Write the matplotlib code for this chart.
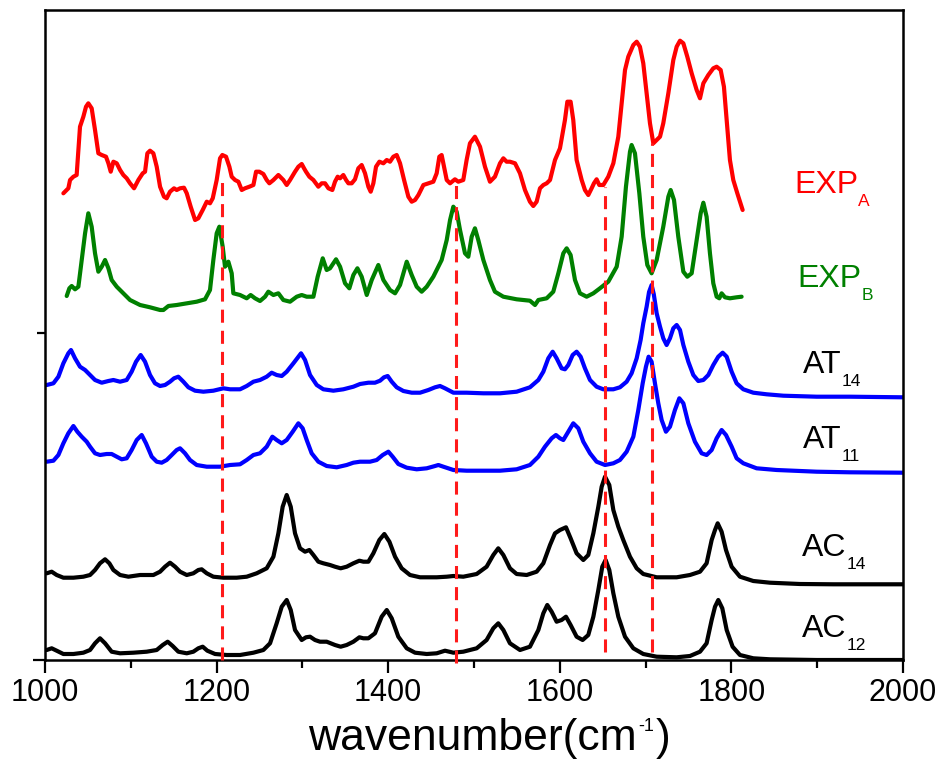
import numpy as np
import matplotlib
matplotlib.use("Agg")
import matplotlib.pyplot as plt

plt.rcParams['font.family'] = ['Liberation Sans', 'DejaVu Sans']
plt.rcParams['lines.scale_dashes'] = False

# spectra (wavenumber in cm-1, stacked intensity in a.u.)
expA_wn = [1021.4, 1027.2, 1029.2, 1033.1, 1036.9, 1040.8, 1044.7, 1047.8, 1050.5, 1054.4,
           1058.3, 1062.2, 1066.1, 1071.1, 1073.9, 1076.6, 1079.7, 1083.6, 1087.5, 1091.3,
           1095.2, 1099.1, 1103.8, 1108.8, 1113.9, 1116.6, 1119.3, 1122.4, 1126.3, 1130.2,
           1134.1, 1138.7, 1141.8, 1145.7, 1150.4, 1153.5, 1157.4, 1162.0, 1165.2, 1169.8,
           1174.9, 1178.7, 1183.8, 1188.5, 1192.3, 1195.5, 1200.1, 1204.0, 1206.7, 1211.0,
           1214.9, 1217.6, 1221.5, 1225.4, 1229.3, 1233.1, 1238.2, 1242.9, 1246.0, 1249.8,
           1254.5, 1258.4, 1261.5, 1266.2, 1272.0, 1277.8, 1281.7, 1285.6, 1291.4, 1295.3,
           1299.2, 1301.9, 1304.2, 1308.1, 1312.8, 1318.6, 1322.5, 1326.4, 1330.3, 1334.9,
           1338.0, 1341.1, 1343.9, 1347.7, 1350.9, 1353.6, 1357.5, 1361.3, 1365.2, 1369.1,
           1373.0, 1376.9, 1379.6, 1382.7, 1385.8, 1389.7, 1394.4, 1398.3, 1402.1, 1406.0,
           1409.9, 1413.8, 1418.5, 1423.5, 1427.4, 1431.3, 1435.2, 1441.0, 1446.8, 1452.6,
           1456.5, 1459.6, 1462.3, 1465.1, 1468.2, 1472.1, 1477.8, 1481.7, 1487.5, 1491.4,
           1495.3, 1501.1, 1507.0, 1512.8, 1518.6, 1524.4, 1530.3, 1534.2, 1538.0, 1541.9,
           1547.8, 1553.6, 1559.4, 1565.2, 1569.1, 1573.0, 1576.9, 1580.8, 1584.7, 1588.6,
           1594.4, 1600.2, 1606.0, 1608.8, 1612.6, 1615.7, 1619.6, 1625.5, 1629.3, 1633.2,
           1637.1, 1639.8, 1642.9, 1646.0, 1650.7, 1656.5, 1662.4, 1668.2, 1672.1, 1676.0,
           1679.8, 1685.7, 1689.6, 1693.4, 1697.3, 1701.2, 1705.1, 1709.0, 1712.9, 1716.8,
           1720.6, 1726.5, 1732.3, 1736.2, 1740.1, 1744.0, 1748.6, 1753.7, 1759.5, 1763.4,
           1767.3, 1773.1, 1778.9, 1782.8, 1787.5, 1791.3, 1794.5, 1798.3, 1802.2, 1806.9,
           1813.1]
expA_int = [466.7, 471.7, 480, 483.3, 485, 533.3, 543.3, 553.3, 556.7, 551.7,
            530, 506.7, 505, 503.3, 496.7, 488.3, 498.3, 496.7, 490, 485,
            481.7, 476.7, 471.7, 480, 486.7, 488.3, 506.7, 509.3, 506.7, 493.3,
            473.3, 463.3, 461.7, 468.3, 471.7, 470, 471.7, 472.3, 466.7, 453.3,
            440, 441.7, 450, 458.3, 456.7, 461.7, 480, 501.7, 505, 503.3,
            493.3, 483.3, 480, 478.3, 470, 471.7, 473.3, 475, 488.3, 488.3,
            486, 480, 476.7, 480, 485, 480, 475, 480, 488.3, 493.3,
            496, 491.7, 488.3, 483.3, 480, 473.3, 476.7, 476.7, 471.7, 470,
            478.3, 483.3, 481.7, 485, 480, 476.7, 476.7, 480.7, 491.7, 495,
            486.7, 473.3, 468.3, 476.7, 493.3, 498.3, 496.7, 500, 498.3, 503.3,
            505, 496.7, 480, 463.3, 458.3, 460, 465, 475, 476.7, 478.3,
            486.7, 503.3, 505, 493.3, 480, 476.7, 480.7, 478.3, 480, 500,
            516.7, 523.3, 513.3, 493.3, 478.3, 483.3, 496.7, 501.7, 498.3, 498.3,
            496.7, 486.7, 470, 458.3, 454, 458.3, 471.7, 475, 476.7, 480,
            500, 511.7, 540, 558.3, 558.3, 540, 500, 480, 470, 465,
            471.7, 476.7, 480.7, 475, 475, 483.3, 496.7, 523.3, 556.7, 590,
            603.3, 615, 618.3, 613.3, 596.7, 566.7, 536.7, 516.7, 520, 523.3,
            536.7, 566.7, 600, 613.3, 619.3, 616.7, 603.3, 586.7, 570, 561.7,
            576.7, 585, 591.7, 593.3, 590, 573.3, 540, 500, 480, 466.7,
            450]

expB_wn = [1025.3, 1028.4, 1031.1, 1035.0, 1038.9, 1042.8, 1046.7, 1050.5, 1054.4, 1058.3,
           1062.2, 1066.1, 1070.0, 1073.9, 1077.7, 1083.6, 1091.3, 1099.1, 1110.8, 1122.4,
           1134.1, 1138.0, 1143.8, 1153.5, 1165.2, 1176.8, 1186.5, 1192.3, 1196.2, 1200.1,
           1203.2, 1207.1, 1209.8, 1213.7, 1217.6, 1219.5, 1227.3, 1235.1, 1239.7, 1244.8,
           1250.6, 1256.5, 1260.3, 1266.2, 1272.0, 1277.8, 1285.6, 1293.4, 1299.2, 1305.0,
           1312.8, 1317.8, 1323.7, 1328.3, 1332.2, 1339.2, 1343.9, 1349.7, 1354.7, 1359.4,
           1364.1, 1369.1, 1375.0, 1380.8, 1388.5, 1394.4, 1402.1, 1408.0, 1413.8, 1421.6,
           1427.4, 1433.2, 1439.0, 1444.9, 1452.6, 1462.3, 1468.2, 1472.1, 1475.9, 1479.8,
           1483.7, 1489.5, 1493.4, 1497.3, 1501.1, 1505.0, 1510.9, 1518.6, 1524.4, 1534.2,
           1549.7, 1565.2, 1571.1, 1575.0, 1584.7, 1592.4, 1598.3, 1604.1, 1608.0, 1612.6,
           1617.7, 1623.5, 1631.3, 1639.1, 1646.8, 1656.5, 1666.3, 1672.1, 1677.1, 1681.8,
           1683.7, 1687.6, 1692.7, 1697.3, 1702.0, 1707.0, 1712.9, 1720.6, 1726.5, 1729.2,
           1733.1, 1738.1, 1744.0, 1748.6, 1753.7, 1759.5, 1764.2, 1767.3, 1771.1, 1775.0,
           1778.9, 1782.8, 1785.9, 1788.6, 1792.5, 1798.3, 1806.1, 1811.9]
expB_int = [364, 371.7, 374, 370.7, 373.3, 400, 426.7, 446.7, 433.3, 406.7,
            388.3, 393.3, 400, 391.7, 380, 373.3, 366.7, 360, 355, 352.7,
            350, 350, 354, 355, 356.7, 358.3, 360.7, 370, 400, 426.7,
            433.3, 413.3, 393.3, 398.3, 386.7, 366.7, 365, 361.7, 365, 361.7,
            359, 363.3, 368.3, 365, 366.7, 360, 358.3, 363.3, 365, 363.3,
            363.3, 383.3, 401.7, 390, 391.7, 400.7, 393.3, 376.7, 371.7, 385,
            391.7, 383.3, 365, 380, 395, 380, 370, 366.7, 375, 398.3,
            385, 373.3, 368.3, 373.3, 383.3, 400, 420, 440, 453.3, 448.3,
            430, 406.7, 403.3, 423.3, 431.7, 420, 400, 380, 368.3, 363.3,
            360.7, 359.3, 355, 360, 361.7, 368.3, 386.7, 406.7, 411.7, 405,
            380, 366.7, 363.3, 366.7, 371.7, 378.3, 393.3, 423.3, 473.3, 508.3,
            515, 506.7, 466.7, 423.3, 395, 386.7, 400, 433.3, 463.3, 470,
            460, 423.3, 388.3, 383.3, 386.7, 420, 446.7, 457.3, 443.3, 406.7,
            376.7, 363.3, 361.7, 366.7, 362.7, 361.7, 362.7, 363.3]

at14_wn = [1002.0, 1009.8, 1015.6, 1021.4, 1027.2, 1030.3, 1035.0, 1040.8, 1046.7, 1052.5,
           1058.3, 1066.1, 1073.9, 1079.7, 1087.5, 1095.2, 1101.0, 1106.1, 1111.5, 1116.6,
           1122.4, 1128.2, 1134.1, 1139.9, 1145.7, 1150.4, 1155.4, 1161.3, 1167.1, 1174.9,
           1184.6, 1196.2, 1207.9, 1215.7, 1227.3, 1235.1, 1242.9, 1250.6, 1258.4, 1264.2,
           1270.0, 1275.9, 1281.7, 1289.5, 1298.4, 1303.1, 1308.9, 1316.7, 1324.4, 1336.1,
           1347.7, 1359.4, 1367.2, 1376.9, 1384.6, 1390.5, 1395.1, 1399.4, 1404.1, 1409.9,
           1417.7, 1427.4, 1437.1, 1446.8, 1454.6, 1460.4, 1466.2, 1476.0, 1491.4, 1510.9,
           1530.3, 1549.7, 1565.2, 1575.0, 1580.8, 1586.6, 1591.7, 1596.3, 1602.1, 1606.0,
           1609.9, 1615.0, 1619.6, 1624.3, 1629.3, 1635.2, 1642.9, 1650.7, 1662.4, 1670.1,
           1677.9, 1683.7, 1689.6, 1694.2, 1697.3, 1701.2, 1704.0, 1707.0, 1709.5, 1712.9,
           1716.8, 1720.6, 1724.5, 1728.4, 1732.3, 1736.2, 1740.1, 1744.0, 1749.8, 1755.6,
           1761.4, 1767.3, 1773.1, 1778.9, 1784.7, 1789.8, 1794.5, 1800.3, 1806.1, 1813.9,
           1825.5, 1841.1, 1860.5, 1899.4, 1938.2, 2000.0]
at14_int = [275, 276.7, 283.3, 296.7, 306.7, 310, 301.7, 293.3, 290, 285,
            280, 277.3, 279, 280, 278.3, 280, 288.3, 298.3, 305, 298.3,
            285, 276.7, 274, 275, 278.3, 281.7, 283.3, 278.3, 272.7, 269.3,
            268.3, 269.3, 271.7, 270.7, 270.7, 274, 278.3, 280, 283.3, 287.3,
            285, 284, 288.3, 296.7, 306.7, 300, 285, 275, 270.7, 269.3,
            270.7, 273.3, 276, 277.3, 277.3, 279.3, 282.7, 284, 278.3, 272.7,
            269, 267.3, 267.3, 270, 272.7, 274, 271.7, 267.3, 267.3, 266.7,
            266.7, 268.3, 272.7, 280, 288.3, 301.7, 308.3, 301.7, 291.7, 290.7,
            295, 305, 308.3, 303.3, 291.7, 280, 273.3, 270.7, 270.7, 272.7,
            278.3, 286.7, 301.7, 320, 336.7, 353.3, 368, 375, 366, 346.7,
            333.3, 321.7, 315, 321.7, 331.7, 335, 330, 315, 298.3, 285,
            279, 280, 285, 295, 303.3, 307.3, 303.3, 288.3, 276.7, 270.7,
            267.3, 265.7, 264.3, 263.3, 263.3, 262.7]

at11_wn = [1002.0, 1009.8, 1015.6, 1021.4, 1027.2, 1033.1, 1037.7, 1042.8, 1048.6, 1052.5,
           1058.3, 1064.1, 1071.9, 1077.7, 1083.6, 1089.4, 1095.2, 1101.0, 1106.9, 1112.7,
           1117.7, 1124.4, 1130.2, 1136.0, 1141.8, 1147.7, 1153.5, 1157.4, 1163.2, 1169.0,
           1176.8, 1188.5, 1204.0, 1215.7, 1227.3, 1235.1, 1242.9, 1250.6, 1258.4, 1265.0,
           1270.0, 1275.9, 1281.7, 1288.7, 1295.3, 1300.3, 1305.0, 1310.8, 1318.6, 1328.3,
           1340.0, 1351.6, 1359.4, 1367.2, 1378.8, 1386.6, 1393.6, 1400.2, 1405.2, 1411.8,
           1421.6, 1433.2, 1444.9, 1454.6, 1458.5, 1464.3, 1476.0, 1491.4, 1510.9, 1530.3,
           1549.7, 1565.2, 1575.0, 1582.7, 1590.5, 1595.5, 1600.2, 1604.1, 1609.9, 1615.7,
           1621.6, 1627.4, 1635.2, 1642.9, 1652.7, 1662.4, 1670.1, 1677.9, 1685.7, 1691.5,
           1696.6, 1700.4, 1703.5, 1707.0, 1710.9, 1714.8, 1718.7, 1723.7, 1728.4, 1734.2,
           1739.3, 1744.0, 1749.8, 1757.5, 1765.3, 1771.1, 1777.0, 1782.8, 1788.6, 1793.7,
           1800.3, 1806.1, 1813.9, 1829.4, 1852.7, 1899.4, 1938.2, 2000.0]
at11_int = [198.3, 199.3, 205, 216.7, 226.7, 234, 228.3, 223.3, 218.3, 213.3,
            206.7, 205, 206, 206, 203.3, 200.7, 201.7, 210, 220, 225,
            216.7, 203.3, 198.3, 197.3, 200, 205, 210, 211.7, 206.7, 200,
            195, 193.3, 193.3, 195, 195.7, 200, 205, 206.7, 213.3, 223.3,
            220, 216.7, 220, 228.3, 236.7, 231.7, 220, 206.7, 198.3, 194,
            192.7, 195, 197.3, 198.3, 198.3, 200, 205, 208.3, 203.3, 196,
            192.3, 190.7, 191.7, 194, 195, 193.3, 190, 189.3, 189.3, 189.3,
            190.7, 195, 203.3, 213.3, 221.7, 225, 221.7, 220, 228.3, 236.7,
            231.7, 218.3, 206.7, 198.3, 195, 196.7, 200, 208.3, 223.3, 250,
            276.7, 293.3, 303.3, 298.3, 276.7, 256.7, 240, 228.3, 233.3, 250,
            261.7, 256.7, 236.7, 218.3, 206.7, 205, 210, 221.7, 230, 225,
            213.3, 201.7, 196.7, 191.7, 190, 188.3, 187.7, 187.3]

ac14_wn = [1002.0, 1007.8, 1013.6, 1021.4, 1033.1, 1044.7, 1052.5, 1058.3, 1064.1, 1070.0,
           1075.0, 1079.7, 1087.5, 1097.2, 1110.8, 1126.3, 1134.1, 1139.9, 1145.7, 1151.6,
           1157.4, 1165.2, 1172.9, 1178.7, 1182.6, 1188.5, 1196.2, 1207.9, 1223.4, 1235.1,
           1246.7, 1258.4, 1266.2, 1272.0, 1277.0, 1281.7, 1286.4, 1291.4, 1297.2, 1303.1,
           1308.1, 1312.8, 1318.6, 1324.4, 1332.2, 1338.0, 1344.6, 1351.6, 1359.4, 1366.4,
           1371.1, 1376.9, 1382.7, 1389.7, 1395.5, 1401.4, 1408.0, 1415.7, 1425.4, 1437.1,
           1456.5, 1468.2, 1476.0, 1487.5, 1503.1, 1514.7, 1522.5, 1528.3, 1534.2, 1541.9,
           1549.7, 1561.4, 1573.0, 1580.8, 1588.6, 1594.4, 1600.2, 1607.2, 1612.6, 1619.6,
           1627.4, 1633.2, 1639.1, 1644.9, 1648.8, 1652.7, 1657.7, 1662.4, 1668.2, 1674.0,
           1681.8, 1689.6, 1697.3, 1712.9, 1736.2, 1751.7, 1763.4, 1771.1, 1777.0, 1780.9,
           1784.0, 1788.6, 1793.7, 1800.3, 1810.0, 1825.5, 1844.9, 1879.9, 1918.8, 2000.0]
ac14_int = [86.7, 88.3, 85, 82.3, 82.3, 83.3, 85, 90, 96.7, 100.7,
            96.7, 90, 85, 83.3, 85, 85, 88.3, 93.3, 97.3, 93.3,
            88.3, 85, 86.7, 90, 90.7, 86.7, 83.3, 82.3, 82.3, 83.3,
            86.7, 91.7, 103.3, 126.7, 153.3, 165, 153.3, 126.7, 111.7, 108.3,
            110, 105, 98.3, 96.7, 95, 93.3, 91.7, 93.3, 96.7, 99.3,
            98.3, 98.3, 106.7, 120, 126, 118.3, 103.3, 91.7, 85, 82.7,
            82.7, 83.3, 84, 83.3, 86, 93.3, 105, 111.7, 105, 91.7,
            86, 85, 88.3, 96.7, 115, 126.7, 130, 132.7, 121.7, 106.7,
            100, 105, 126.7, 153.3, 173.3, 183.3, 175, 150, 133.3, 120,
            103.3, 91.7, 86, 82.7, 82.7, 85, 88.3, 96.7, 120, 130,
            136.7, 128.3, 110, 93.3, 83.3, 79, 77.3, 76, 75.7, 75.7]

ac12_wn = [1002.0, 1007.8, 1013.6, 1021.4, 1033.1, 1044.7, 1052.5, 1058.3, 1064.1, 1070.0,
           1077.7, 1087.5, 1103.0, 1118.5, 1130.2, 1137.2, 1143.0, 1148.8, 1155.4, 1165.2,
           1172.9, 1178.7, 1183.8, 1189.2, 1198.2, 1211.8, 1227.3, 1242.9, 1254.5, 1262.3,
           1270.0, 1275.9, 1281.7, 1286.4, 1291.4, 1299.2, 1304.2, 1308.9, 1314.7, 1320.5,
           1328.3, 1338.0, 1344.6, 1351.6, 1359.4, 1366.4, 1371.1, 1376.9, 1384.6, 1392.4,
           1398.3, 1404.1, 1411.8, 1421.6, 1431.3, 1444.9, 1456.5, 1466.2, 1476.0, 1487.5,
           1503.1, 1514.7, 1522.5, 1528.3, 1534.2, 1541.9, 1553.6, 1565.2, 1575.0, 1580.8,
           1585.4, 1590.5, 1596.3, 1602.1, 1607.2, 1612.6, 1619.6, 1626.6, 1633.2, 1639.1,
           1644.9, 1649.5, 1653.4, 1657.7, 1662.4, 1668.2, 1676.0, 1685.7, 1697.3, 1712.9,
           1736.2, 1751.7, 1763.4, 1771.1, 1777.0, 1780.9, 1784.7, 1789.4, 1794.5, 1801.4,
           1810.0, 1825.5, 1844.9, 1899.4, 2000.0]
ac12_int = [10, 11.7, 9.3, 6, 6, 7.3, 10, 16.7, 21.7, 16.7,
            8.3, 6.7, 7.3, 8.3, 10, 15, 18.3, 14, 8.3, 6.7,
            8.3, 11.7, 13.3, 9.3, 6, 5, 5, 7.3, 10, 16.7,
            36.7, 53.3, 60, 50, 30, 20, 22.7, 23.3, 20, 18.3,
            18.3, 15, 13.3, 15, 18.3, 22.7, 21.7, 21.7, 26.7, 43.3,
            50, 41.7, 23.3, 11.7, 7.3, 6, 6.7, 9.3, 7.3, 8.3,
            11.7, 20, 31.7, 36.7, 30, 16.7, 10, 13.3, 30, 46.7,
            55, 48.3, 38.3, 40, 43.3, 35, 23.3, 20, 25, 43.3,
            70, 93.3, 100, 90, 66.7, 43.3, 23.3, 11.7, 6, 3.3,
            2.7, 4, 8.3, 16.7, 40, 53.3, 60, 51.7, 30, 13.3,
            5, 1.7, 0.7, 0, 0]

# reference lines
mark_wn = [1206, 1479, 1653, 1707]
mark_top = [482, 477, 473, 517]
mark_bottom = [0, -3, 8, 8]

# labels: main text, subscript, colour, position
names = ['EXP', 'EXP', 'AT', 'AT', 'AC', 'AC']
subs = ['A', 'B', '14', '11', '14', '12']
name_colors = ['#ff0000', '#008000', 'black', 'black', 'black', 'black']
name_x = [1873, 1877, 1883, 1883, 1882, 1882]
name_y = [467, 373, 287, 212, 104, 23]

series = [(expA_wn, expA_int, '#ff0000'),
          (expB_wn, expB_int, '#008000'),
          (at14_wn, at14_int, '#0000ff'),
          (at11_wn, at11_int, '#0000ff'),
          (ac14_wn, ac14_int, 'black'),
          (ac12_wn, ac12_int, 'black')]

fig = plt.figure(figsize=(9.47, 7.65), dpi=100)
ax = fig.add_axes([45 / 947, 105 / 765, 858 / 947, 650 / 765])

for wn, inten, col in series:
    ax.plot(wn, inten, color=col, lw=3, solid_joinstyle='round', solid_capstyle='round', zorder=2)

for x, y0, y1 in zip(mark_wn, mark_bottom, mark_top):
    ax.plot([x, x], [y0, y1], color='#ff1a1a', lw=2.2, dashes=(9.4, 5.8), zorder=3, clip_on=False)

for name, sub, col, x, y in zip(names, subs, name_colors, name_x, name_y):
    t = ax.text(x, y, name, color=col, fontsize=23, va='baseline', ha='left')
    ax.annotate(sub, xy=(1, 0), xycoords=t, xytext=(0, -4.5), textcoords='offset points',
                color=col, fontsize=12.5, va='baseline', ha='left')

ax.set_xlim(1000, 2000)
ax.set_ylim(0, 650)
ax.set_xticks([1000, 1200, 1400, 1600, 1800, 2000])
ax.set_xticks(np.arange(1100, 2000, 200), minor=True)
ax.set_yticks([0])
ax.set_yticks([327], minor=True)
ax.set_yticklabels([])
ax.tick_params(which='major', direction='out', length=9, width=1.6, labelsize=22, pad=4)
ax.tick_params(which='minor', direction='out', length=5.5, width=1.6)
for s in ax.spines.values():
    s.set_linewidth(1.8)

# x axis title with a small raised "-1", as in the original
xl = fig.text(308 / 947, 15 / 765, 'wavenumber(cm', fontsize=32, ha='left', va='baseline')
sup = ax.annotate('-1', xy=(1, 1), xycoords=xl, xytext=(1, 0), textcoords='offset points',
                  fontsize=13, ha='left', va='top')
ax.annotate(')', xy=(1, 0), xycoords=(sup, xl), xytext=(1, 0), textcoords='offset points',
            fontsize=32, ha='left', va='bottom')

fig.savefig('out.png', dpi=100)
